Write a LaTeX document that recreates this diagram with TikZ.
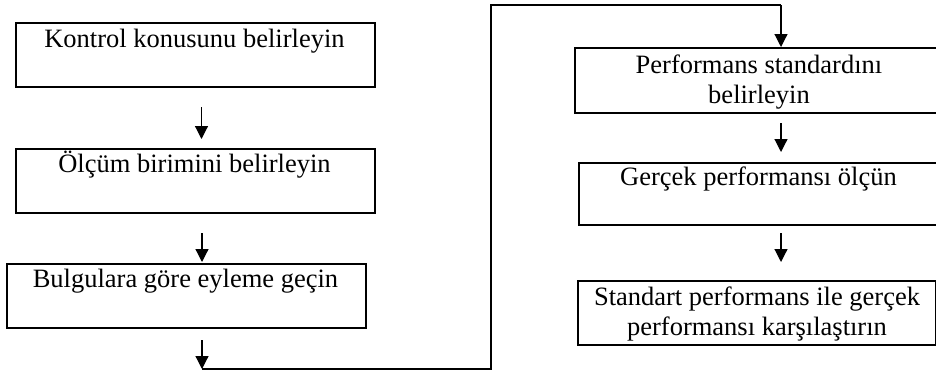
\documentclass[tikz,border=0pt]{standalone}
\usepackage{fontspec}
\setmainfont{Liberation Serif}
\usetikzlibrary{arrows.meta}
\begin{document}
\begin{tikzpicture}[x=1pt,y=-1pt,
  stepbox/.style={draw=black,line width=1.5pt,rectangle,inner sep=0pt,anchor=north west},
  steptext/.style={anchor=base,inner sep=0pt,align=center,font=\fontsize{26.5}{30}\selectfont},
  flow/.style={line width=1.2pt,-{Triangle[width=13pt,length=13pt]}},
  link/.style={line width=1.2pt}]
\useasboundingbox (0,0) rectangle (936,372);
\clip (0,0) rectangle (936,372);
\fill[white] (0,0) rectangle (936,372);

% left column
\node[stepbox,minimum width=359pt,minimum height=64pt] (b1) at (15,22) {};
\node[steptext] (t1) at (194.5,47) {Kontrol konusunu belirleyin};
\node[stepbox,minimum width=359pt,minimum height=64pt] (b2) at (15,148) {};
\node[steptext] (t2) at (194.5,172) {Ölçüm birimini belirleyin};
\node[stepbox,minimum width=359pt,minimum height=64pt] (b3) at (6,263) {};
\node[steptext] (t3) at (185.5,287) {Bulgulara göre eyleme geçin};

% right column (two-line labels are placed by their last baseline)
\node[stepbox,minimum width=370pt,minimum height=65pt] (b4) at (574,47) {};
\node[steptext] (t4) at (759,103) {Performans standardını\\belirleyin};
\node[stepbox,minimum width=362pt,minimum height=62pt] (b5) at (578,162) {};
\node[steptext] (t5) at (758.5,185) {Gerçek performansı ölçün};
\node[stepbox,minimum width=358pt,minimum height=64pt] (b6) at (577,280) {};
\node[steptext] (t6) at (757,335) {Standart performans ile gerçek\\performansı karşılaştırın};

% connector points
\coordinate (a1s) at (201.5,107);
\coordinate (a1e) at (201.5,139);
\coordinate (a2s) at (202,233);
\coordinate (a2e) at (202,262);
\coordinate (a3s) at (202,340);
\coordinate (a3e) at (202,369);
\coordinate (r1) at (491,369);
\coordinate (r2) at (491,5);
\coordinate (r3) at (781,5);
\coordinate (a4e) at (781,47);
\coordinate (a5s) at (781,123);
\coordinate (a5e) at (781,152);
\coordinate (a6s) at (781,233);
\coordinate (a6e) at (781,262);

\draw[flow] (a1s) -- (a1e);
\draw[flow] (a2s) -- (a2e);
\draw[flow] (a3s) -- (a3e);
\draw[link] (a3e) -- (r1) -- (r2) -- (r3);
\draw[flow] (r3) -- (a4e);
\draw[flow] (a5s) -- (a5e);
\draw[flow] (a6s) -- (a6e);
\end{tikzpicture}
\end{document}
